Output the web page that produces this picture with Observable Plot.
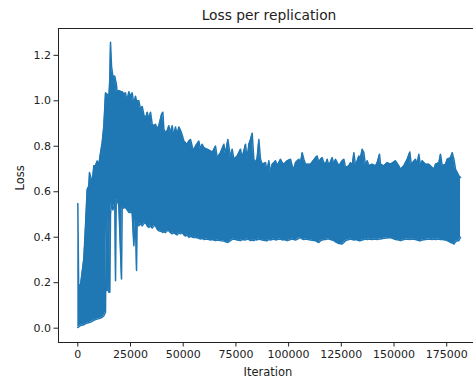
<!DOCTYPE html>
<html>
<head>
<meta charset="utf-8">
<script src="https://cdn.jsdelivr.net/npm/d3@7"></script>
<script src="https://cdn.jsdelivr.net/npm/@observablehq/plot@0.6"></script>
<style>
  html, body { margin: 0; padding: 0; background: #fff; overflow: hidden; }
</style>
</head>
<body>
<div id="chart"></div>
<script>
const title = "Loss per replication";
const xLabel = "Iteration";
const yLabel = "Loss";
const xTicks = [0, 25000, 50000, 75000, 100000, 125000, 150000, 175000];
const yTicks = [0.0, 0.2, 0.4, 0.6, 0.8, 1.0, 1.2];

// envelope of the noisy loss trace
const iteration = [0,400,1280,2850,3650,4440,5230,5550,6820,7610,8400,9190,9980,10770,11560,12350,13140,13500,13930,14400,14720,15200,15510,16000,16630,17580,17890,18210,18680,19470,20730,21050,21840,22630,23420,24210,25000,25790,26580,27370,27850,28160,28960,29750,30540,31330,32120,32910,33700,34490,35280,36070,36860,37650,38440,39710,40340,40820,41610,42400,43190,43980,44770,45560,46350,47140,47930,48720,49510,50300,51090,51880,52670,53460,54250,55030,55840,57420,58210,59000,59790,61370,62950,63740,65320,66110,67700,69280,70070,71170,72440,73230,74020,75600,77180,77970,79560,80350,81140,81930,82720,83510,84300,85090,85880,86670,87460,89040,89830,90620,91420,92210,93000,93790,94580,96160,96950,97740,99320,100900,101700,102480,103270,104860,105650,106440,107230,108020,110390,112760,113550,114340,115130,115920,116720,117510,118300,119090,120670,121460,122250,123830,125410,126200,126990,128580,129370,130160,130950,131740,133320,134110,134900,135690,136480,137270,138060,139640,141230,142020,143120,143600,145180,146760,148340,150710,152290,153080,154660,156250,157510,158150,160200,160990,161780,162570,163360,164950,166530,168110,168900,169690,171270,172060,172850,174430,175220,176800,177600,178390,179180,179970,180760,181550];
const lossHigh = [0.548,0.19,0.19,0.305,0.45,0.61,0.625,0.685,0.64,0.714,0.714,0.735,0.72,0.77,0.816,0.889,1.035,1.03,1.03,1.02,1.01,1.1,1.257,1.152,1.108,1.108,1.09,1.079,1.04,1.045,1.04,1.04,1.03,1.035,0.999,1.04,1.02,1.035,0.985,1.02,1.0,1.0,1.0,0.963,0.975,0.94,0.92,0.95,0.92,0.95,0.897,0.89,0.897,0.876,0.89,0.94,0.95,0.876,0.86,0.868,0.89,0.86,0.89,0.845,0.885,0.85,0.885,0.87,0.85,0.823,0.815,0.81,0.823,0.83,0.80,0.78,0.801,0.823,0.787,0.809,0.794,0.787,0.780,0.772,0.801,0.750,0.772,0.809,0.765,0.830,0.750,0.787,0.743,0.757,0.787,0.750,0.809,0.743,0.809,0.830,0.857,0.743,0.728,0.750,0.830,0.743,0.721,0.728,0.692,0.736,0.685,0.721,0.728,0.736,0.714,0.743,0.728,0.721,0.736,0.743,0.714,0.699,0.728,0.743,0.728,0.772,0.743,0.721,0.721,0.750,0.757,0.728,0.743,0.750,0.728,0.721,0.743,0.714,0.750,0.721,0.743,0.714,0.736,0.743,0.707,0.714,0.728,0.714,0.772,0.714,0.757,0.750,0.787,0.772,0.714,0.736,0.714,0.721,0.714,0.728,0.765,0.721,0.714,0.728,0.721,0.736,0.714,0.699,0.714,0.743,0.775,0.721,0.743,0.721,0.765,0.714,0.736,0.721,0.721,0.707,0.699,0.721,0.728,0.765,0.714,0.721,0.743,0.750,0.772,0.743,0.699,0.685,0.670,0.663];
const lossLow = [0.003,0.005,0.012,0.015,0.02,0.022,0.025,0.025,0.03,0.035,0.038,0.04,0.042,0.045,0.048,0.055,0.07,0.45,0.165,0.5,0.158,0.158,0.5,0.55,0.52,0.55,0.209,0.55,0.567,0.538,0.216,0.524,0.53,0.531,0.52,0.509,0.51,0.509,0.363,0.48,0.254,0.47,0.45,0.46,0.45,0.46,0.465,0.45,0.443,0.45,0.44,0.45,0.45,0.435,0.428,0.425,0.421,0.425,0.42,0.43,0.428,0.42,0.415,0.42,0.414,0.41,0.42,0.415,0.421,0.41,0.405,0.41,0.399,0.405,0.40,0.399,0.40,0.395,0.392,0.395,0.39,0.392,0.388,0.39,0.385,0.388,0.385,0.383,0.38,0.377,0.385,0.39,0.392,0.388,0.385,0.39,0.388,0.392,0.39,0.385,0.388,0.385,0.39,0.388,0.392,0.39,0.388,0.385,0.385,0.39,0.388,0.39,0.392,0.388,0.39,0.392,0.388,0.39,0.385,0.39,0.392,0.39,0.388,0.395,0.399,0.392,0.39,0.392,0.388,0.385,0.38,0.377,0.385,0.388,0.39,0.39,0.392,0.392,0.388,0.385,0.38,0.372,0.37,0.377,0.385,0.39,0.392,0.39,0.388,0.39,0.385,0.385,0.388,0.39,0.392,0.39,0.392,0.39,0.392,0.39,0.392,0.392,0.395,0.397,0.399,0.39,0.388,0.385,0.39,0.392,0.39,0.392,0.39,0.388,0.385,0.385,0.388,0.39,0.392,0.39,0.392,0.39,0.392,0.39,0.39,0.388,0.385,0.377,0.375,0.37,0.38,0.385,0.385,0.40];

const data = iteration.map((it, i) => ({iteration: it, high: lossHigh[i], low: lossLow[i]}));

const xDomain = [-9160, 187700];
const yDomain = [-0.063, 1.318];
const blue = "#1f77b4";
const ink = "#222";

const chart = Plot.plot({
  width: 473,
  height: 381,
  marginLeft: 58,
  marginRight: 0,
  marginTop: 28,
  marginBottom: 39,
  x: {domain: xDomain},
  y: {domain: yDomain},
  style: {fontFamily: "'DejaVu Sans', sans-serif", fontSize: "11px", background: "#fff", color: ink},
  marks: [
    Plot.areaY(data, {x: "iteration", y1: "low", y2: "high", fill: blue}),
    Plot.line(data, {x: "iteration", y: "high", stroke: blue, strokeWidth: 1.5}),
    Plot.line(data, {x: "iteration", y: "low", stroke: blue, strokeWidth: 1.5}),
    Plot.axisX({ticks: xTicks, tickFormat: d => String(d), tickSize: 4.5, tickPadding: 3, label: null, stroke: ink, fill: ink}),
    Plot.axisY({ticks: yTicks, tickFormat: d3.format(".1f"), tickSize: 4.5, tickPadding: 3, label: null, stroke: ink, fill: ink}),
    Plot.ruleX([xDomain[0]], {stroke: ink, strokeWidth: 1}),
    Plot.ruleY([yDomain[0], yDomain[1]], {stroke: ink, strokeWidth: 1}),
    Plot.text([title], {frameAnchor: "top", dy: -13, dx: 3, fontSize: 13.8, fill: ink, lineAnchor: "middle"}),
    Plot.text([xLabel], {frameAnchor: "bottom", dy: 30, dx: 2, fontSize: 11.5, fill: ink, lineAnchor: "middle"}),
    Plot.text([yLabel], {frameAnchor: "left", dx: -38, dy: 5, rotate: -90, fontSize: 11.5, fill: ink, lineAnchor: "middle"})
  ]
});
document.getElementById("chart").appendChild(chart);
</script>
</body>
</html>
